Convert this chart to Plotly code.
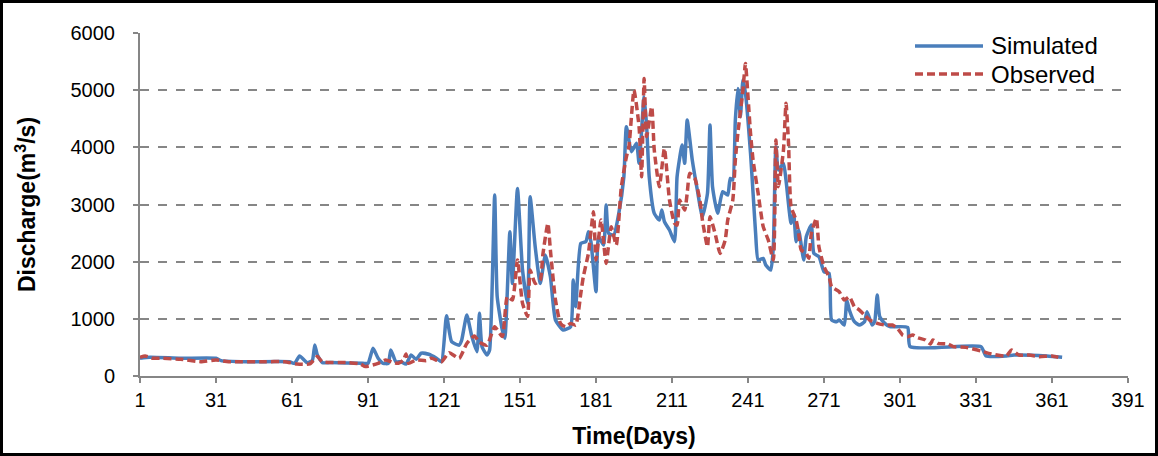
import plotly.graph_objects as go

sim_days = [1, 5, 17, 31, 33, 43, 60, 62, 64, 67, 69, 70, 71, 73, 76, 89, 91, 93, 95, 97, 99, 100, 102, 104, 106, 108, 110, 112, 115, 118, 120, 122, 124, 127, 128, 130, 132, 134, 135, 136, 138, 139, 141, 142, 144, 145, 147, 148, 150, 152, 154, 155, 157, 159, 161, 163, 165, 168, 171, 172, 173, 175, 177, 178, 179, 181, 182, 184, 185, 186, 188, 190, 192, 193, 195, 197, 198, 200, 201, 202, 204, 206, 207, 208, 210, 212, 213, 215, 216, 217, 219, 221, 223, 225, 226, 227, 229, 231, 233, 234, 235, 236, 237, 238, 239, 240, 242, 243, 244, 245, 247, 248, 250, 251, 252, 253, 255, 256, 258, 259, 260, 261, 263, 264, 266, 267, 269, 271, 273, 274, 276, 277, 279, 280, 281, 283, 285, 287, 288, 290, 291, 292, 293, 295, 297, 304, 305, 333, 335, 343, 346, 359, 365]
sim_vals = [310, 328, 310, 310, 269, 250, 250, 222, 350, 234, 269, 544, 368, 234, 234, 222, 222, 485, 310, 222, 222, 456, 250, 250, 210, 368, 293, 398, 380, 310, 250, 1055, 600, 540, 630, 1067, 690, 425, 1096, 513, 367, 455, 3165, 1388, 805, 660, 2525, 1620, 3280, 1854, 1270, 3135, 2260, 1620, 2115, 1737, 980, 805, 863, 1680, 1213, 2320, 2350, 2525, 2350, 1475, 2437, 2290, 2990, 2495, 2466, 2845, 3486, 4360, 3924, 4070, 3720, 4885, 4360, 3486, 2845, 2730, 2903, 2700, 2553, 2350, 3486, 4040, 3720, 4477, 3778, 3253, 2787, 3195, 4390, 3311, 2845, 3224, 3165, 3457, 3428, 4477, 5031, 4536, 5177, 4944, 3894, 3200, 2500, 2029, 2058, 1941, 1854, 2262, 4011, 3603, 3720, 3428, 2670, 2845, 2350, 2553, 2029, 2437, 2640, 2145, 2087, 1825, 1796, 980, 950, 980, 890, 1330, 1154, 950, 890, 950, 1125, 890, 950, 1417, 1038, 921, 863, 851, 513, 513, 350, 350, 367, 350, 326]

obs_days = [1, 3, 6, 10, 17, 25, 31, 36, 50, 58, 63, 68, 71, 73, 83, 88, 90, 95, 98, 101, 103, 105, 106, 107, 110, 114, 116, 120, 123, 127, 130, 133, 135, 138, 141, 144, 146, 148, 150, 152, 154, 155, 157, 159, 160, 162, 163, 165, 167, 169, 171, 173, 175, 176, 178, 180, 181, 183, 185, 187, 189, 191, 193, 194, 196, 198, 199, 200, 201, 203, 204, 206, 208, 210, 212, 213, 214, 216, 217, 218, 220, 222, 223, 225, 226, 228, 230, 232, 233, 235, 236, 237, 239, 240, 241, 242, 243, 245, 247, 249, 251, 252, 253, 255, 256, 257, 258, 260, 261, 262, 264, 265, 266, 268, 269, 271, 273, 274, 277, 279, 281, 283, 285, 287, 289, 292, 295, 298, 300, 302, 304, 306, 308, 311, 313, 314, 316, 320, 322, 327, 333, 336, 343, 345, 348, 352, 356, 361, 365]
obs_vals = [328, 351, 310, 310, 293, 250, 280, 250, 250, 250, 210, 210, 339, 250, 234, 210, 164, 222, 281, 234, 222, 281, 386, 222, 281, 269, 310, 250, 408, 310, 570, 700, 590, 540, 863, 690, 1388, 1330, 2030, 1270, 1040, 1854, 1620, 1680, 2115, 2670, 2200, 1330, 920, 863, 920, 890, 1445, 1737, 2145, 2875, 2030, 2730, 1970, 2610, 2290, 3310, 3835, 4011, 5000, 4360, 3486, 5205, 4186, 4710, 3952, 3310, 3980, 3078, 2670, 2640, 3078, 2903, 3195, 3545, 3457, 3078, 2728, 2262, 2787, 2495, 2145, 2378, 2728, 3078, 3778, 4244, 5002, 5468, 4885, 4244, 3778, 3195, 2612, 2378, 2029, 4128, 3311, 3953, 4769, 4069, 2962, 2728, 2495, 2204, 2145, 2058, 2495, 2757, 2262, 1912, 1737, 1562, 1475, 1329, 1388, 1213, 1154, 1067, 980, 921, 892, 892, 834, 717, 688, 717, 670, 630, 560, 630, 571, 560, 513, 501, 437, 396, 350, 455, 367, 367, 338, 350, 309]

x_ticks = [1, 31, 61, 91, 121, 151, 181, 211, 241, 271, 301, 331, 361, 391]
y_ticks = [0, 1000, 2000, 3000, 4000, 5000, 6000]
series_names = ["Simulated", "Observed"]

FONT = "Liberation Sans, Arial, sans-serif"
GREY = "#868686"
BLUE = "#4A7EBB"
RED = "#BE4B48"
DASH = "8px,4px"
LW = 3.5

fig = go.Figure()
fig.add_trace(go.Scatter(x=sim_days, y=sim_vals, mode="lines", name=series_names[0],
                         line=dict(color=BLUE, width=LW, shape="spline", smoothing=0.5),
                         showlegend=False))
fig.add_trace(go.Scatter(x=obs_days, y=obs_vals, mode="lines", name=series_names[1],
                         line=dict(color=RED, width=LW, dash=DASH, shape="spline", smoothing=0.5),
                         showlegend=False))

W, H = 1158, 456
L, R, T, B = 140, 30, 33, 80
pw, ph = W - L - R, H - T - B


def px_x(p):
    return (p - L) / pw


def px_y(p):
    return (T + ph - p) / ph


shapes = [dict(type="rect", xref="paper", yref="paper",
               x0=px_x(1.5), x1=px_x(W - 1.5), y0=px_y(H - 1.5), y1=px_y(1.5),
               line=dict(color="black", width=3), fillcolor="rgba(0,0,0,0)", layer="above")]
annotations = []
# legend (drawn manually to match long line samples)
for i, (nm, col, dsh) in enumerate([(series_names[0], BLUE, "solid"), (series_names[1], RED, DASH)]):
    yy = px_y(46 + 28 * i)
    shapes.append(dict(type="line", xref="paper", yref="paper",
                       x0=px_x(915), x1=px_x(983), y0=yy, y1=yy,
                       line=dict(color=col, width=LW, dash=dsh)))
    annotations.append(dict(xref="paper", yref="paper", x=px_x(989), y=yy,
                            xanchor="left", yanchor="middle", text=nm, showarrow=False,
                            font=dict(size=24, family=FONT, color="black")))

fig.update_layout(
    width=W, height=H,
    margin=dict(l=L, r=R, t=T, b=B),
    paper_bgcolor="white", plot_bgcolor="white",
    font=dict(family=FONT, size=20, color="black"),
    showlegend=False,
    xaxis=dict(range=[1, 391], tickmode="array", tickvals=x_ticks,
               ticktext=[str(v) for v in x_ticks],
               showgrid=False, zeroline=False,
               showline=True, linecolor=GREY, linewidth=2,
               ticks="outside", ticklen=5, tickcolor=GREY, tickwidth=2,
               tickfont=dict(size=20),
               title=dict(text="<b>Time(Days)</b>", font=dict(size=23), standoff=18)),
    yaxis=dict(range=[0, 6000], tickmode="array", tickvals=y_ticks,
               showgrid=True, gridcolor=GREY, gridwidth=1.5, griddash="dash",
               zeroline=False,
               showline=True, linecolor=GREY, linewidth=2,
               ticks="outside", ticklen=5, tickcolor=GREY, tickwidth=2,
               tickfont=dict(size=20), ticklabelstandoff=14,
               title=dict(text="<b>Discharge(m<sup>3</sup>/s)</b>", font=dict(size=23), standoff=28)),
    shapes=shapes,
    annotations=annotations,
)

fig.write_html("out.html")
